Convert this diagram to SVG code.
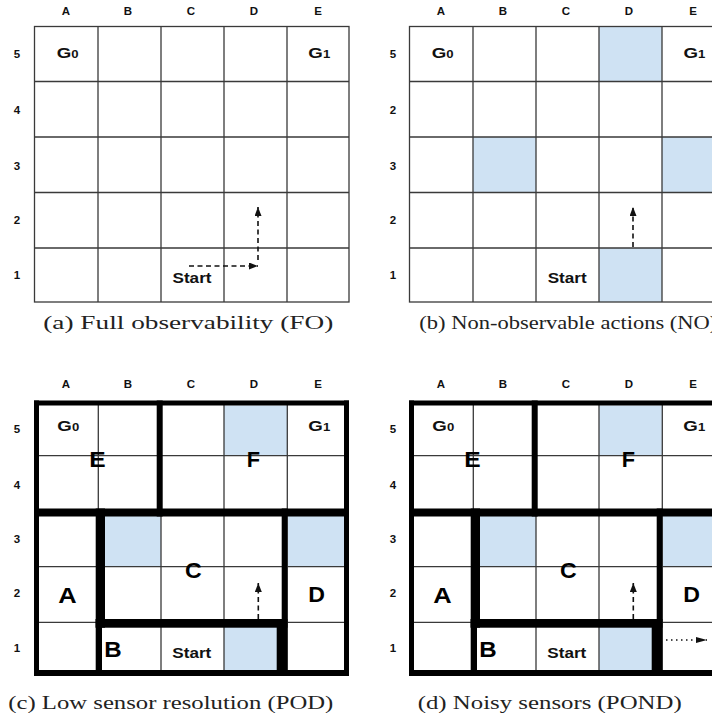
<svg xmlns="http://www.w3.org/2000/svg" width="712" height="721" viewBox="0 0 712 721">
<style>
.bg{fill:#ffffff}
.cell{fill:#cfe2f3}
.thin{stroke:#3a3a3a;stroke-width:1.3;fill:none}
.wall{fill:#000000}
.lbl{font-family:"Liberation Sans",Arial,sans-serif;font-weight:bold;font-size:11.5px;fill:#111;text-anchor:middle}
.g{font-family:"Liberation Sans",Arial,sans-serif;font-weight:bold;font-size:15px;fill:#111}
.st{font-family:"Liberation Sans",Arial,sans-serif;font-weight:bold;font-size:14.5px;fill:#111}
.big{font-family:"Liberation Sans",Arial,sans-serif;font-weight:bold;font-size:22px;fill:#000}
.cap{font-family:"Liberation Serif","Times New Roman",serif;font-size:19px;fill:#222}
.dash{stroke:#111;stroke-width:1.6;stroke-dasharray:5 3.5;fill:none}
.dot{stroke:#111;stroke-width:1.5;stroke-dasharray:1.5 3.5;fill:none}
</style>
<defs>
<marker id="ah" markerUnits="userSpaceOnUse" markerWidth="9" markerHeight="7" refX="9" refY="3.5" orient="auto"><path d="M0,0 L9,3.5 L0,7 z" fill="#111"/></marker>
<marker id="ah2" markerUnits="userSpaceOnUse" markerWidth="11" markerHeight="6" refX="11" refY="3" orient="auto"><path d="M0,0 L11,3 L0,6 z" fill="#111"/></marker>
</defs>
<rect class="bg" x="0" y="0" width="712" height="721"/>

<!-- Panel (a) -->
<g id="panel-a">
  <g id="a-grid">
    <rect x="34.5" y="26.5" width="314.5" height="275.5" class="thin"/>
    <path class="thin" d="M98,26.5V302 M161,26.5V302 M224,26.5V302 M287,26.5V302 M34.5,81.5H349 M34.5,137H349 M34.5,192.5H349 M34.5,248H349"/>
  </g>
  <g id="a-cols">
    <text class="lbl" x="66" y="15">A</text><text class="lbl" x="128" y="15">B</text><text class="lbl" x="191" y="15">C</text><text class="lbl" x="254" y="15">D</text><text class="lbl" x="318" y="15">E</text>
  </g>
  <g id="a-rows">
    <text class="lbl" x="17" y="58">5</text><text class="lbl" x="17" y="114">4</text><text class="lbl" x="17" y="170">3</text><text class="lbl" x="17" y="224">2</text><text class="lbl" x="17" y="279">1</text>
  </g>
  <g id="a-G0"><text class="g" transform="translate(56.7,58.3) scale(1.25,1)">G<tspan font-size="10.5">0</tspan></text></g>
  <g id="a-G1"><text class="g" transform="translate(308.3,57.5) scale(1.25,1)">G<tspan font-size="10.5">1</tspan></text></g>
  <g id="a-start"><text class="st" x="172.5" y="283" textLength="39" lengthAdjust="spacingAndGlyphs">Start</text></g>
  <text class="cap" x="43.3" y="329.3" textLength="290" lengthAdjust="spacingAndGlyphs">(a) Full observability (FO)</text>
</g>

<!-- Panel (b) -->
<g id="panel-b">
  <g id="b-cells">
    <rect class="cell" x="599" y="26.5" width="63" height="55"/>
    <rect class="cell" x="473" y="137" width="63" height="55.5"/>
    <rect class="cell" x="662" y="137" width="62" height="55.5"/>
    <rect class="cell" x="599" y="248" width="63" height="54"/>
  </g>
  <g id="b-grid">
    <rect x="409.5" y="26.5" width="314.5" height="275.5" class="thin"/>
    <path class="thin" d="M473,26.5V302 M536,26.5V302 M599,26.5V302 M662,26.5V302 M409.5,81.5H724 M409.5,137H724 M409.5,192.5H724 M409.5,248H724"/>
  </g>
  <g id="b-cols">
    <text class="lbl" x="441" y="15">A</text><text class="lbl" x="503" y="15">B</text><text class="lbl" x="566" y="15">C</text><text class="lbl" x="629" y="15">D</text><text class="lbl" x="693" y="15">E</text>
  </g>
  <g id="b-rows">
    <text class="lbl" x="393" y="58">5</text><text class="lbl" x="393" y="114">2</text><text class="lbl" x="393" y="170">3</text><text class="lbl" x="393" y="224">2</text><text class="lbl" x="393" y="279">1</text>
  </g>
  <g id="b-G0"><text class="g" transform="translate(431.7,58.3) scale(1.25,1)">G<tspan font-size="10.5">0</tspan></text></g>
  <g id="b-G1"><text class="g" transform="translate(683.5,57.5) scale(1.25,1)">G<tspan font-size="10.5">1</tspan></text></g>
  <g id="b-start"><text class="st" x="547.7" y="283" textLength="39" lengthAdjust="spacingAndGlyphs">Start</text></g>
  <text class="cap" x="419.3" y="329.3" textLength="298" lengthAdjust="spacingAndGlyphs">(b) Non-observable actions (NO)</text>
</g>

<!-- Panel (c) -->
<g id="panel-c">
  <g id="c-cells">
    <rect class="cell" x="224" y="405.5" width="63.3" height="50.2"/>
    <rect class="cell" x="98.3" y="512" width="62.7" height="54.7"/>
    <rect class="cell" x="287.3" y="512" width="56.7" height="54.7"/>
    <rect class="cell" x="224" y="622.3" width="63.3" height="48"/>
  </g>
  <g id="c-grid">
    <path class="thin" d="M98.3,401V676 M161,401V676 M224,401V676 M287.3,401V676 M34,455.7H349 M34,512H349 M34,566.7H349 M34,622.3H349"/>
  </g>
  <g id="c-walls">
    <rect class="wall" x="34" y="400.5" width="315" height="5"/>
    <rect class="wall" x="34" y="670" width="315" height="6"/>
    <rect class="wall" x="34" y="400.5" width="5" height="275.5"/>
    <rect class="wall" x="344" y="400.5" width="5" height="275.5"/>
    <rect class="wall" x="156.7" y="400.5" width="6" height="116"/>
    <rect class="wall" x="34" y="508.5" width="315" height="8"/>
    <rect class="wall" x="95.7" y="508.5" width="9.3" height="119.2"/>
    <rect class="wall" x="95.7" y="619" width="6.3" height="57"/>
    <rect class="wall" x="95.7" y="619" width="191.6" height="8.7"/>
    <rect class="wall" x="281.7" y="508.5" width="5.6" height="119.2"/>
    <rect class="wall" x="276.7" y="619" width="10.6" height="57"/>
  </g>
  <g id="c-cols">
    <text class="lbl" x="66" y="388">A</text><text class="lbl" x="128" y="388">B</text><text class="lbl" x="191" y="388">C</text><text class="lbl" x="254" y="388">D</text><text class="lbl" x="318" y="388">E</text>
  </g>
  <g id="c-rows">
    <text class="lbl" x="17" y="433">5</text><text class="lbl" x="17" y="489">4</text><text class="lbl" x="17" y="543">3</text><text class="lbl" x="17" y="597">2</text><text class="lbl" x="17" y="652">1</text>
  </g>
  <g id="c-G0"><text class="g" transform="translate(57.3,431) scale(1.25,1)">G<tspan font-size="10.5">0</tspan></text></g>
  <g id="c-G1"><text class="g" transform="translate(308.3,430.7) scale(1.25,1)">G<tspan font-size="10.5">1</tspan></text></g>
  <g id="c-E"><text class="big" x="89.3" y="466.5" textLength="16.4" lengthAdjust="spacingAndGlyphs">E</text></g>
  <g id="c-F"><text class="big" x="246.7" y="467" textLength="13.3" lengthAdjust="spacingAndGlyphs">F</text></g>
  <g id="c-C"><text class="big" x="185" y="577.5" textLength="16.7" lengthAdjust="spacingAndGlyphs">C</text></g>
  <g id="c-A"><text class="big" x="58.3" y="602.5" textLength="18.4" lengthAdjust="spacingAndGlyphs">A</text></g>
  <g id="c-D"><text class="big" x="308.3" y="601.5" textLength="16.7" lengthAdjust="spacingAndGlyphs">D</text></g>
  <g id="c-B"><text class="big" x="104.3" y="656.5" textLength="17.4" lengthAdjust="spacingAndGlyphs">B</text></g>
  <g id="c-start"><text class="st" x="172.3" y="657.5" textLength="39" lengthAdjust="spacingAndGlyphs">Start</text></g>
  <text class="cap" x="8.3" y="709.3" textLength="325" lengthAdjust="spacingAndGlyphs">(c) Low sensor resolution (POD)</text>
</g>

<!-- Panel (d) -->
<g id="panel-d" transform="translate(375,0)">
  <g id="d-cells">
    <rect class="cell" x="224" y="405.5" width="63.3" height="50.2"/>
    <rect class="cell" x="98.3" y="512" width="62.7" height="54.7"/>
    <rect class="cell" x="287.3" y="512" width="56.7" height="54.7"/>
    <rect class="cell" x="224" y="622.3" width="63.3" height="48"/>
  </g>
  <g id="d-grid">
    <path class="thin" d="M98.3,401V676 M161,401V676 M224,401V676 M287.3,401V676 M34,455.7H349 M34,512H349 M34,566.7H349 M34,622.3H349"/>
  </g>
  <g id="d-walls">
    <rect class="wall" x="34" y="400.5" width="315" height="5"/>
    <rect class="wall" x="34" y="670" width="315" height="6"/>
    <rect class="wall" x="34" y="400.5" width="5" height="275.5"/>
    <rect class="wall" x="344" y="400.5" width="5" height="275.5"/>
    <rect class="wall" x="156.7" y="400.5" width="6" height="116"/>
    <rect class="wall" x="34" y="508.5" width="315" height="8"/>
    <rect class="wall" x="95.7" y="508.5" width="9.3" height="119.2"/>
    <rect class="wall" x="95.7" y="619" width="6.3" height="57"/>
    <rect class="wall" x="95.7" y="619" width="191.6" height="8.7"/>
    <rect class="wall" x="281.7" y="508.5" width="5.6" height="119.2"/>
    <rect class="wall" x="276.7" y="619" width="10.6" height="57"/>
  </g>
  <g id="d-cols">
    <text class="lbl" x="66" y="388">A</text><text class="lbl" x="128" y="388">B</text><text class="lbl" x="191" y="388">C</text><text class="lbl" x="254" y="388">D</text><text class="lbl" x="318" y="388">E</text>
  </g>
  <g id="d-rows">
    <text class="lbl" x="18" y="433">5</text><text class="lbl" x="18" y="489">4</text><text class="lbl" x="18" y="543">3</text><text class="lbl" x="18" y="597">2</text><text class="lbl" x="18" y="652">1</text>
  </g>
  <g id="d-G0"><text class="g" transform="translate(57.3,431) scale(1.25,1)">G<tspan font-size="10.5">0</tspan></text></g>
  <g id="d-G1"><text class="g" transform="translate(308.3,430.7) scale(1.25,1)">G<tspan font-size="10.5">1</tspan></text></g>
  <g id="d-E"><text class="big" x="89.3" y="466.5" textLength="16.4" lengthAdjust="spacingAndGlyphs">E</text></g>
  <g id="d-F"><text class="big" x="246.7" y="467" textLength="13.3" lengthAdjust="spacingAndGlyphs">F</text></g>
  <g id="d-C"><text class="big" x="185" y="577.5" textLength="16.7" lengthAdjust="spacingAndGlyphs">C</text></g>
  <g id="d-A"><text class="big" x="58.3" y="602.5" textLength="18.4" lengthAdjust="spacingAndGlyphs">A</text></g>
  <g id="d-D"><text class="big" x="308.3" y="601.5" textLength="16.7" lengthAdjust="spacingAndGlyphs">D</text></g>
  <g id="d-B"><text class="big" x="104.3" y="656.5" textLength="17.4" lengthAdjust="spacingAndGlyphs">B</text></g>
  <g id="d-start"><text class="st" x="172.3" y="657.5" textLength="39" lengthAdjust="spacingAndGlyphs">Start</text></g>
  <text class="cap" x="42.7" y="709.3" textLength="264" lengthAdjust="spacingAndGlyphs">(d) Noisy sensors (POND)</text>
</g>

<!-- Connectors -->
<g id="connectors">
  <path class="dash" d="M189,266 H258" marker-end="url(#ah)"/>
  <path class="dash" d="M258,260 V207" marker-end="url(#ah)"/>
  <path class="dash" d="M633,247 V207" marker-end="url(#ah)"/>
  <path class="dash" d="M258.3,619 V583" marker-end="url(#ah)"/>
  <path class="dash" d="M633.3,619 V583" marker-end="url(#ah)"/>
  <path class="dot" d="M666,640 H707" marker-end="url(#ah2)"/>
</g>
</svg>
